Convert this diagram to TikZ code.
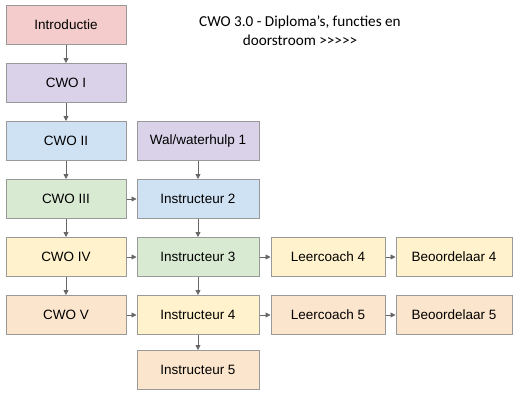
\documentclass[tikz,border=0pt]{standalone}
\usepackage{fontspec}
\setmainfont{Liberation Sans}
\newfontfamily\titlefont{Carlito}
\usepackage{xcolor}
\usetikzlibrary{arrows.meta,positioning}

\definecolor{cpink}{HTML}{F4CCCC}
\definecolor{cpurple}{HTML}{D9D2E9}
\definecolor{cblue}{HTML}{CFE2F3}
\definecolor{cgreen}{HTML}{D9EAD3}
\definecolor{cyellow}{HTML}{FFF2CC}
\definecolor{corange}{HTML}{FCE5CD}
\definecolor{cline}{HTML}{999999}
\definecolor{carrow}{HTML}{666666}

\begin{document}
\begin{tikzpicture}[
  x=1pt, y=-1pt,
  box/.style={draw=cline, line width=1pt, minimum width=120pt, minimum height=39pt, inner sep=0pt, align=center, font=\fontsize{13.5}{16}\selectfont},
  arrow/.style={-{Triangle[length=5pt,width=5pt]}, draw=carrow, fill=carrow, line width=0.8pt},
  node distance=18pt and 10pt,
]
\useasboundingbox (0,0) rectangle (520,400);

% left column: diploma's
\node[box, fill=cpink] (intro) at (66,25) {Introductie};
\node[box, fill=cpurple, below=of intro] (cwo1) {CWO I};
\node[box, fill=cblue, below=of cwo1] (cwo2) {CWO II};
\node[box, fill=cgreen, below=of cwo2] (cwo3) {CWO III};
\node[box, fill=cyellow, below=of cwo3] (cwo4) {CWO IV};
\node[box, fill=corange, below=of cwo4] (cwo5) {CWO V};

% second column: instructeurs
\node[box, fill=cpurple, minimum width=122pt, right=of cwo2] (wal) {Wal/waterhulp 1};
\node[box, fill=cblue, minimum width=122pt, right=of cwo3] (instr2) {Instructeur 2};
\node[box, fill=cgreen, minimum width=122pt, right=of cwo4] (instr3) {Instructeur 3};
\node[box, fill=cyellow, minimum width=122pt, right=of cwo5] (instr4) {Instructeur 4};
\node[box, fill=corange, minimum width=122pt, below=15pt of instr4] (instr5) {Instructeur 5};

% right columns
\node[box, fill=cyellow, minimum width=114pt, right=11pt of instr3] (coach4) {Leercoach 4};
\node[box, fill=cyellow, minimum width=116pt, right=of coach4] (beoord4) {Beoordelaar 4};
\node[box, fill=corange, minimum width=114pt, right=11pt of instr4] (coach5) {Leercoach 5};
\node[box, fill=corange, minimum width=116pt, right=of coach5] (beoord5) {Beoordelaar 5};

% title
\node[align=center, font=\titlefont\fontsize{15.2}{19}\selectfont] (title) at (300,31) {CWO 3.0 - Diploma’s, functies en\\doorstroom >>>>>};

\draw[arrow] (intro) -- (cwo1);
\draw[arrow] (cwo1) -- (cwo2);
\draw[arrow] (cwo2) -- (cwo3);
\draw[arrow] (cwo3) -- (cwo4);
\draw[arrow] (cwo4) -- (cwo5);
\draw[arrow] (wal) -- (instr2);
\draw[arrow] (instr2) -- (instr3);
\draw[arrow] (instr3) -- (instr4);
\draw[arrow] (instr4) -- (instr5);
\draw[arrow] (cwo3) -- (instr2);
\draw[arrow] (cwo4) -- (instr3);
\draw[arrow] (cwo5) -- (instr4);
\draw[arrow] (instr3) -- (coach4);
\draw[arrow] (coach4) -- (beoord4);
\draw[arrow] (instr4) -- (coach5);
\draw[arrow] (coach5) -- (beoord5);

\end{tikzpicture}
\end{document}
